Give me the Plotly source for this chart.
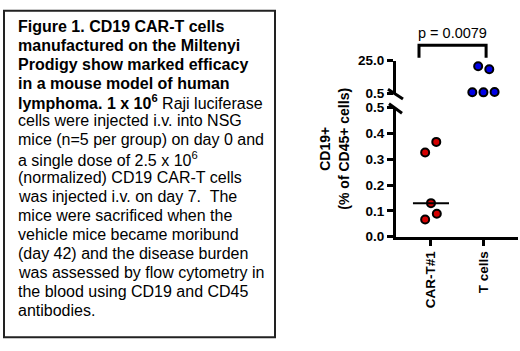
import numpy as np
import plotly.graph_objects as go

W, H = 520, 351

# ---------------- data ----------------
categories = ["CAR-T#1", "T cells"]
cart_values = [0.367, 0.326, 0.130, 0.089, 0.067]
tcell_values = [20.7, 18.5, 1.2, 1.1, 1.3]
lower_ticks = [0.0, 0.1, 0.2, 0.3, 0.4, 0.5]
upper_ticks = [0.5, 25.0]
upper_tick_text = ["0.5", "25.0"]
p_label = "p = 0.0079"
y_title = "CD19+<br>(% of CD45+ cells)"
caption_lines = [
    "<b>Figure 1. CD19 CAR-T cells</b>",
    "<b>manufactured on the Miltenyi</b>",
    "<b>Prodigy show marked efficacy</b>",
    "<b>in a mouse model of human</b>",
    "<b>lymphoma. 1 x 10<sup>6</sup></b> Raji luciferase",
    "cells were injected i.v. into NSG",
    "mice (n=5 per group) on day 0 and",
    "a single dose of 2.5 x 10<sup>6</sup>",
    "(normalized) CD19 CAR-T cells",
    "was injected i.v. on day 7.&nbsp; The",
    "mice were sacrificed when the",
    "vehicle mice became moribund",
    "(day 42) and the disease burden",
    "was assessed by flow cytometry in",
    "the blood using CD19 and CD45",
    "antibodies.",
]

# ---------------- style (scatter jitter, in category units) ----------------
cart_jitter = [0.10, -0.11, 0.0, 0.11, -0.11]
tcell_jitter = [-0.11, 0.10, -0.22, -0.01, 0.20]

FONT = "Liberation Sans, Arial, sans-serif"


def px(x):
    return x / W


def py(y):
    return 1 - y / H


fig = go.Figure()

fig.add_trace(go.Scatter(
    x=[0 + j for j in cart_jitter], y=cart_values, mode="markers",
    marker=dict(size=8, color="#d40000", line=dict(color="black", width=2)),
    xaxis="x", yaxis="y", cliponaxis=False, showlegend=False))

fig.add_trace(go.Scatter(
    x=[1 + j for j in tcell_jitter], y=tcell_values, mode="markers",
    marker=dict(size=8, color="#0000e6", line=dict(color="black", width=2)),
    xaxis="x", yaxis="y2", cliponaxis=False, showlegend=False))

axis_common = dict(showline=True, linecolor="black", linewidth=3,
                   ticks="outside", ticklen=6, tickwidth=2.5, tickcolor="black",
                   showgrid=False, zeroline=False,
                   tickfont=dict(family=FONT, size=13.5, color="black", weight="bold"))

fig.update_layout(
    width=W, height=H,
    margin=dict(l=0, r=0, t=0, b=0),
    paper_bgcolor="white", plot_bgcolor="white",
    font=dict(family=FONT, color="black"),
    xaxis=dict(domain=[px(396), px(518)], range=[-0.66, 1.642],
               tickvals=[0, 1], ticktext=categories, tickangle=-90,
               anchor="y", **axis_common),
    yaxis=dict(domain=[py(240), py(105)], range=[0, 0.5],
               tickvals=lower_ticks, tickformat=".1f", anchor="x",
               **axis_common),
    yaxis2=dict(domain=[py(90), py(56)], range=[0.5, 25],
                tickvals=upper_ticks, ticktext=upper_tick_text, anchor="x",
                **axis_common),
)

shapes = []
# caption box
shapes.append(dict(type="rect", xref="paper", yref="paper",
                   x0=px(4), x1=px(275), y0=py(345), y1=py(4),
                   line=dict(color="#222222", width=2)))
# axis break marks
shapes.append(dict(type="line", xref="paper", yref="paper",
                   x0=px(388), y0=py(86), x1=px(403), y1=py(96),
                   line=dict(color="black", width=3)))
shapes.append(dict(type="line", xref="paper", yref="paper",
                   x0=px(389), y0=py(101), x1=px(402), y1=py(111),
                   line=dict(color="black", width=3)))
# significance bracket
bx0, bx1 = -0.226, 1.04
shapes.append(dict(type="path", xref="x", yref="paper",
                   path=f"M {bx0},{py(53)} L {bx0},{py(40)} L {bx1},{py(40)} L {bx1},{py(53)}",
                   line=dict(color="black", width=3)))
# median line for CAR-T
med = float(np.median(cart_values))
shapes.append(dict(type="line", xref="x", yref="y",
                   x0=-0.34, x1=0.34, y0=med, y1=med,
                   line=dict(color="black", width=2)))
fig.update_layout(shapes=shapes)

annotations = []
annotations.append(dict(text=p_label, xref="x", yref="paper",
                        x=(bx0 + bx1) / 2, y=py(27), showarrow=False,
                        xanchor="center", yanchor="middle",
                        font=dict(family=FONT, size=14.5, color="black")))
annotations.append(dict(text=y_title, xref="paper", yref="paper",
                        x=px(334), y=py(148), showarrow=False, textangle=-90,
                        xanchor="center", yanchor="middle",
                        font=dict(family=FONT, size=14, color="black", weight="bold")))
for i, line in enumerate(caption_lines):
    annotations.append(dict(text=line, xref="paper", yref="paper",
                            x=px(16), y=py(20 + i * 19.8), showarrow=False,
                            xanchor="left", yanchor="middle", align="left",
                            font=dict(family=FONT, size=16, color="black")))
fig.update_layout(annotations=annotations)

fig.write_html("out.html",
               config={"displayModeBar": False},
               post_script="document.body.style.margin='0';document.body.style.overflow='hidden';")
